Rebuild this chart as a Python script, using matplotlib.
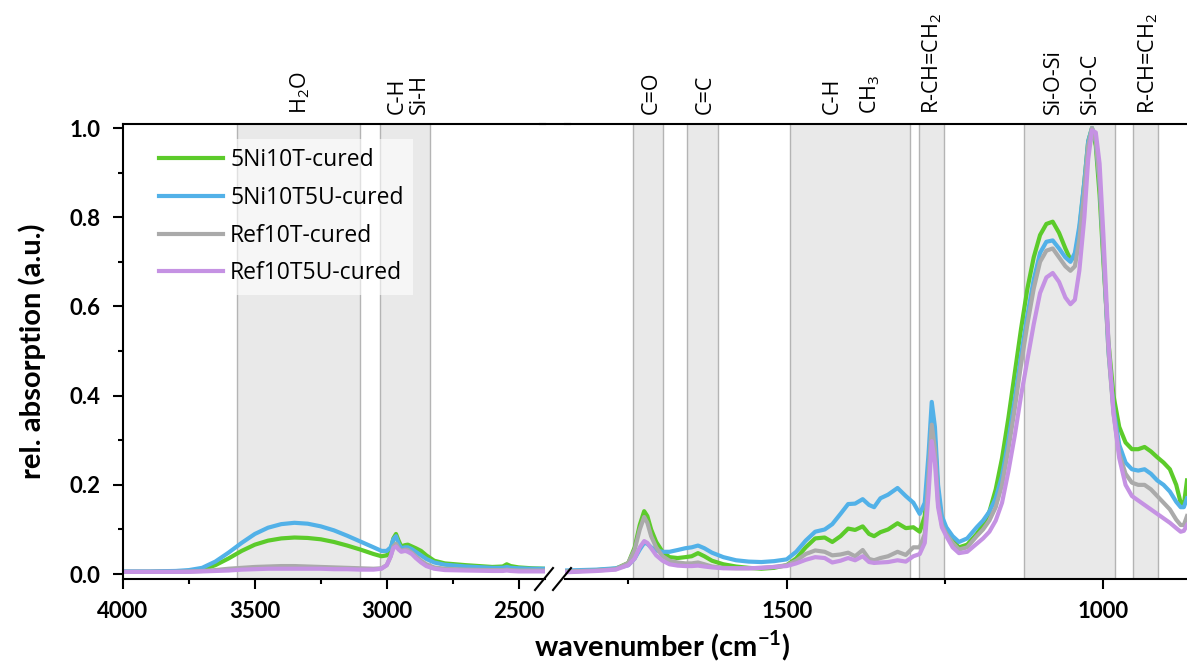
import matplotlib
matplotlib.use('Agg')
import matplotlib.pyplot as plt
from matplotlib.lines import Line2D
from matplotlib.ticker import FixedLocator, FormatStrFormatter, MultipleLocator

plt.rcParams['mathtext.fontset'] = 'custom'
plt.rcParams['mathtext.rm'] = 'Open Sans'
plt.rcParams['mathtext.bf'] = 'Lato:bold'

# ---- data: high wavenumber part (4000 -> 2400 cm-1)
wn_hi = [4000, 3900, 3800, 3750, 3700, 3650, 3600, 3550, 3500, 3450, 3400, 3350,
         3300, 3250, 3200, 3150, 3100, 3050, 3020, 3000, 2985, 2975, 2965, 2955,
         2945, 2930, 2920, 2905, 2890, 2870, 2850, 2820, 2780, 2700, 2600, 2560,
         2545, 2530, 2500, 2450, 2400]
ni10t_hi = [.005, .005, .006, .007, .010, .020, .035, .052, .066, .075, .080, .082,
            .081, .078, .072, .064, .055, .045, .040, .042, .055, .080, .090, .075,
            .062, .065, .066, .062, .058, .052, .042, .030, .024, .020, .016, .017,
            .022, .018, .015, .013, .012]
ni10t5u_hi = [.006, .006, .007, .009, .014, .028, .048, .070, .090, .104, .112, .115,
              .113, .107, .098, .086, .073, .060, .052, .052, .060, .078, .085, .068,
              .058, .060, .060, .056, .050, .042, .034, .026, .021, .017, .014, .014,
              .016, .014, .013, .012, .012]
ref10t_hi = [.005, .005, .005, .006, .007, .009, .012, .014, .016, .017, .018, .018,
             .017, .016, .015, .014, .013, .012, .013, .020, .040, .062, .068, .058,
             .052, .055, .054, .048, .040, .030, .022, .015, .012, .010, .009, .009,
             .010, .009, .008, .008, .008]
ref10t5u_hi = [.005, .005, .005, .005, .006, .007, .008, .010, .011, .012, .012, .012,
               .012, .012, .011, .011, .010, .010, .012, .020, .040, .058, .062, .055,
               .050, .052, .050, .045, .036, .026, .018, .012, .009, .008, .007, .007,
               .008, .007, .006, .006, .006]

# ---- data: fingerprint part (1850 -> 868 cm-1)
wn_lo = [1850, 1800, 1770, 1750, 1740, 1732, 1725, 1720, 1714, 1706, 1696, 1685,
         1672, 1660, 1650, 1640, 1630, 1618, 1600, 1580, 1560, 1540, 1520, 1500,
         1485, 1470, 1455, 1440, 1428, 1415, 1403, 1392, 1380, 1370, 1362, 1352,
         1340, 1325, 1312, 1300, 1290, 1282, 1276, 1271, 1266, 1261, 1255, 1248,
         1238, 1228, 1215, 1200, 1190, 1180, 1170, 1160, 1150, 1140, 1130, 1120,
         1110, 1100, 1090, 1080, 1070, 1060, 1052, 1045, 1038, 1030, 1024, 1018,
         1012, 1006, 1000, 992, 984, 975, 965, 955, 945, 935, 925, 915,
         905, 895, 885, 878, 873, 868]
ni10t_lo = [.005, .009, .012, .025, .060, .110, .141, .130, .100, .072, .050, .038,
            .036, .038, .040, .047, .040, .030, .022, .017, .014, .012, .014, .020,
            .035, .060, .080, .082, .072, .085, .102, .099, .107, .090, .085, .094,
            .100, .114, .103, .105, .095, .130, .240, .350, .300, .180, .120, .095,
            .075, .060, .066, .090, .110, .140, .190, .260, .350, .450, .550, .640,
            .710, .760, .785, .790, .765, .730, .705, .710, .770, .880, .970, 1.00,
            .960, .850, .700, .520, .400, .330, .295, .280, .280, .285, .275, .262,
            .250, .235, .200, .160, .155, .210]
ni10t5u_lo = [.008, .010, .013, .020, .035, .055, .070, .068, .060, .053, .050, .050,
              .054, .058, .060, .064, .058, .048, .038, .031, .028, .027, .029, .033,
              .050, .075, .095, .100, .112, .135, .157, .158, .168, .155, .150, .170,
              .178, .193, .175, .160, .135, .160, .270, .386, .330, .200, .130, .105,
              .085, .072, .080, .105, .120, .140, .170, .220, .300, .390, .490, .580,
              .660, .720, .745, .748, .730, .710, .700, .720, .780, .880, .970, 1.00,
              .970, .880, .720, .500, .370, .290, .250, .235, .232, .235, .225, .210,
              .200, .185, .162, .150, .150, .170]
ref10t_lo = [.006, .008, .011, .025, .055, .100, .128, .115, .085, .060, .040, .030,
             .026, .024, .024, .026, .022, .017, .014, .013, .013, .014, .016, .020,
             .030, .045, .053, .050, .042, .044, .048, .040, .054, .034, .031, .036,
             .040, .050, .043, .060, .060, .090, .220, .335, .280, .160, .110, .090,
             .070, .055, .060, .085, .100, .120, .150, .200, .280, .370, .470, .560,
             .640, .700, .725, .730, .710, .690, .680, .690, .750, .860, .960, 1.00,
             .970, .880, .720, .500, .360, .270, .225, .205, .200, .200, .190, .175,
             .160, .145, .122, .110, .110, .130]
ref10t5u_lo = [.004, .007, .010, .020, .035, .060, .074, .070, .058, .042, .030, .022,
               .019, .018, .018, .019, .017, .015, .013, .013, .013, .014, .016, .018,
               .024, .032, .038, .036, .026, .030, .036, .031, .040, .027, .025, .026,
               .027, .031, .028, .040, .045, .070, .180, .298, .250, .150, .105, .085,
               .060, .047, .050, .068, .080, .095, .120, .160, .230, .310, .400, .480,
               .560, .630, .665, .675, .655, .620, .605, .615, .680, .800, .930, .995,
               .990, .920, .760, .520, .360, .260, .200, .175, .165, .155, .145, .135,
               .125, .115, .103, .095, .097, .110]

names = ['5Ni10T-cured', '5Ni10T5U-cured', 'Ref10T-cured', 'Ref10T5U-cured']
colors = ['#5ccb2a', '#52b1e8', '#aaaaaa', '#c592e3']

# shaded bands (cm-1) and their labels
bands_hi = [(3568, 3102), (3026, 2837)]
bands_lo = [(1743, 1695), (1657, 1609), (1495, 1306), (1291, 1251), (1126, 981), (953, 913)]
labels_hi = [(3330, 'H$_\\mathregular{2}$O'), (2962, 'C-H'), (2877, 'Si-H')]
labels_lo = [(1714, 'C=O'), (1628, 'C=C'), (1428, 'C-H'), (1368, 'CH$_\\mathregular{3}$'),
             (1270, 'R-CH=CH$_\\mathregular{2}$'), (1079, 'Si-O-Si'), (1020, 'Si-O-C'),
             (929, 'R-CH=CH$_\\mathregular{2}$')]

W, H = 1187, 661
fig = plt.figure(figsize=(W / 100, H / 100), dpi=100)
ax1 = fig.add_axes([123 / W, 82 / H, 422 / W, 455 / H])
ax2 = fig.add_axes([565 / W, 82 / H, 622 / W, 455 / H], sharey=ax1)

series_hi = [ni10t_hi, ni10t5u_hi, ref10t_hi, ref10t5u_hi]
series_lo = [ni10t_lo, ni10t5u_lo, ref10t_lo, ref10t5u_lo]
for ax, wn, series, bands, labels in [(ax1, wn_hi, series_hi, bands_hi, labels_hi),
                                      (ax2, wn_lo, series_lo, bands_lo, labels_lo)]:
    for a, b in bands:
        ax.axvspan(b, a, color='#e9e9e9', zorder=0, lw=0)
        ax.axvline(a, color='#b4b4b4', lw=1, zorder=0.5)
        ax.axvline(b, color='#b4b4b4', lw=1, zorder=0.5)
    for ys, c, n in zip(series, colors, names):
        assert len(ys) == len(wn)
        ax.plot(wn, ys, color=c, lw=3, label=n, zorder=2)
    for x, t in labels:
        ax.text(x, 1.022, t, transform=ax.get_xaxis_transform(), rotation=90,
                ha='center', va='bottom', fontsize=15.5, family='Open Sans')
    for s in ax.spines.values():
        s.set_linewidth(1.5)
    ax.tick_params(axis='both', which='major', direction='out', length=7, width=1.5,
                   labelsize=16, pad=9)
    ax.tick_params(axis='both', which='minor', direction='out', length=3.5, width=1.5)

ax1.set_xlim(4000, 2400)
ax2.set_xlim(1850, 868)
ax1.set_ylim(-0.011, 1.009)

ax1.xaxis.set_major_locator(FixedLocator([4000, 3500, 3000, 2500]))
ax1.xaxis.set_minor_locator(FixedLocator([3750, 3250, 2750]))
ax2.xaxis.set_major_locator(FixedLocator([1500, 1000]))
ax2.xaxis.set_minor_locator(FixedLocator([1750, 1250]))
ax1.yaxis.set_major_locator(MultipleLocator(0.2))
ax1.yaxis.set_minor_locator(MultipleLocator(0.1))
ax1.yaxis.set_major_formatter(FormatStrFormatter('%.1f'))

ax1.spines['right'].set_visible(False)
ax2.spines['left'].set_visible(False)
ax2.spines['right'].set_visible(False)
ax2.tick_params(axis='y', which='both', left=False, labelleft=False)
for ax in (ax1, ax2):
    for lab in ax.get_xticklabels() + ax.get_yticklabels():
        lab.set_fontfamily('Lato')
        lab.set_fontweight('bold')

# continuous top line across the gap, and // break marks at the bottom
fig.add_artist(Line2D([540 / W, 570 / W], [537 / H, 537 / H], color='black', lw=1.5))
for xc in (544, 562):
    fig.add_artist(Line2D([(xc - 9) / W, (xc + 9) / W], [(H - 590) / H, (H - 568) / H],
                          color='black', lw=1.5))

ax1.set_ylabel('rel. absorption (a.u.)', fontsize=21, fontweight='bold', family='Lato',
               labelpad=17)
fig.text(662 / W, 1 - 656 / H, 'wavenumber (cm$^{\\mathbf{-1}}$)', fontsize=21,
         fontweight='bold', family='Lato', ha='center', va='baseline')

leg = ax1.legend(loc='upper left', bbox_to_anchor=(0.064, 0.967), borderaxespad=0,
                 frameon=True, fancybox=False, handlelength=2.8, handletextpad=0.3,
                 labelspacing=0.6, prop={'family': 'Open Sans', 'size': 16.5})
leg.get_frame().set_facecolor('white')
leg.get_frame().set_alpha(0.6)
leg.get_frame().set_linewidth(0)

fig.savefig('out.png', dpi=100)
